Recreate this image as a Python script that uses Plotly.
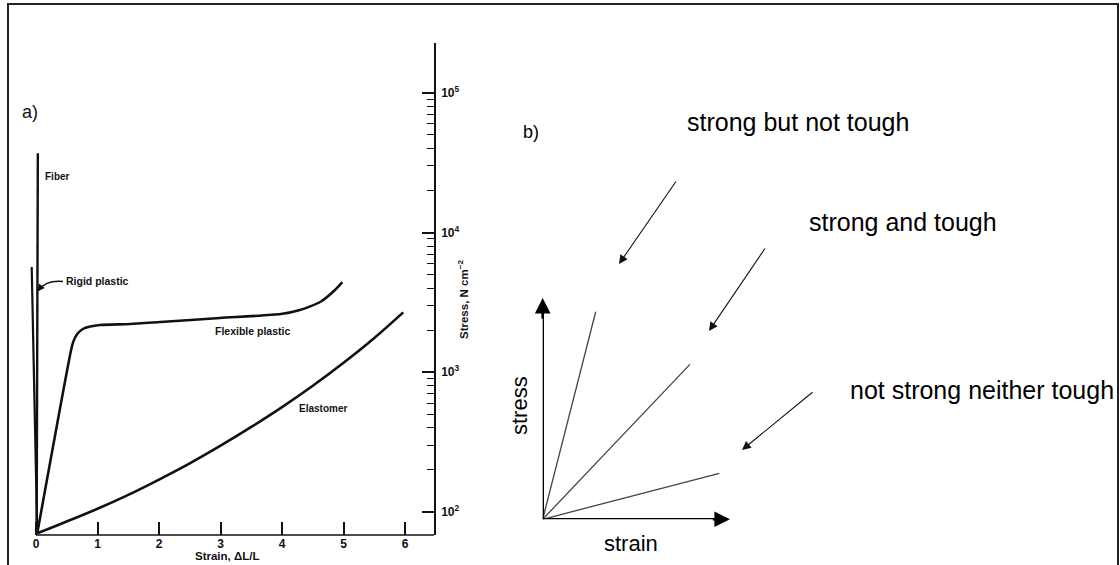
import plotly.graph_objects as go

W, H = 1120, 565

def px(x):
    return x / W

def py(y):
    return 1 - y / H

# ---------------- Panel a data (strain, stress N cm^-2) ----------------
fiber_strain = [0.01, 0.03]
fiber_stress = [70, 37000]

rigid_strain = [0.02, -0.07]
rigid_stress = [70, 5670]

flex_strain = [0.02, 0.57, 0.61, 0.67, 0.76, 0.88, 1.04, 1.53, 2.02, 2.99, 3.98, 4.29, 4.62, 4.86, 4.98]
flex_stress = [70, 1436, 1667, 1874, 2037, 2123, 2175, 2212, 2286, 2443, 2608, 2786, 3180, 3875, 4415]

elast_strain = [0.02, 0.44, 1.0, 1.5, 2.0, 2.5, 3.0, 3.5, 4.0, 4.5, 5.0, 5.5, 5.97]
elast_stress = [70, 83, 105, 132, 170, 222, 297, 405, 562, 799, 1167, 1757, 2680]

x_ticks = [0, 1, 2, 3, 4, 5, 6]
y_major = [100, 1000, 10000, 100000]
y_major_text = ["10<sup>2</sup>", "10<sup>3</sup>", "10<sup>4</sup>", "10<sup>5</sup>"]
y_minor = [m * d for d in (100, 1000, 10000) for m in range(2, 10)]

# ---------------- Panel b data (schematic) ----------------
b_lines = {
    "strong but not tough": [2.83, 9.38],
    "strong and tough": [7.86, 7.00],
    "not strong neither tough": [9.43, 2.08],
}

FONT = "Liberation Sans, Arial, sans-serif"
INK = "#111111"

fig = go.Figure()

curve_style = dict(color=INK, width=2.6)
fig.add_trace(go.Scatter(x=fiber_strain, y=fiber_stress, mode="lines",
                         line=dict(color=INK, width=2.4), xaxis="x", yaxis="y", hoverinfo="skip"))
fig.add_trace(go.Scatter(x=rigid_strain, y=rigid_stress, mode="lines",
                         line=dict(color=INK, width=2.2), xaxis="x", yaxis="y", hoverinfo="skip"))
fig.add_trace(go.Scatter(x=flex_strain, y=flex_stress, mode="lines",
                         line=dict(curve_style, shape="spline", smoothing=0.6),
                         xaxis="x", yaxis="y", hoverinfo="skip"))
fig.add_trace(go.Scatter(x=elast_strain, y=elast_stress, mode="lines",
                         line=dict(curve_style, shape="spline", smoothing=1.0),
                         xaxis="x", yaxis="y", hoverinfo="skip"))

for name, (bx, by) in b_lines.items():
    fig.add_trace(go.Scatter(x=[0, bx], y=[0, by], mode="lines",
                             line=dict(color="#444444", width=1.3),
                             xaxis="x2", yaxis="y2", hoverinfo="skip"))

x0_px = 36 - 0.12 * 61.5
fig.update_layout(
    width=W, height=H,
    margin=dict(l=0, r=0, t=0, b=0),
    paper_bgcolor="white", plot_bgcolor="rgba(0,0,0,0)",
    showlegend=False,
    font=dict(family=FONT, color=INK),
    xaxis=dict(
        domain=[px(x0_px), px(434)], range=[-0.12, 6.47], anchor="y",
        showline=False, showgrid=False, zeroline=False,
        ticks="inside", ticklen=13, tickwidth=1.5, tickcolor=INK,
        tickmode="array", tickvals=x_ticks,
        tickfont=dict(family=FONT, size=12, color=INK, weight="bold"),
    ),
    yaxis=dict(
        type="log", domain=[py(535), py(43)], range=[1.8331, 5.358],
        anchor="x", side="right",
        showline=True, linewidth=1.6, linecolor=INK,
        showgrid=False, zeroline=False,
        ticks="inside", ticklen=12, tickwidth=1.5, tickcolor=INK,
        tickmode="array", tickvals=y_major, ticktext=y_major_text,
        tickfont=dict(family=FONT, size=12, color=INK, weight="bold"),
        ticklabelstandoff=3,
        minor=dict(ticks="inside", ticklen=7, tickwidth=1.2, tickcolor=INK,
                   tickmode="array", tickvals=y_minor, showgrid=False),
    ),
    xaxis2=dict(domain=[px(542.7), px(730)], range=[0, 10], anchor="y2", visible=False),
    yaxis2=dict(domain=[py(519.3), py(298)], range=[0, 10], anchor="x2", visible=False),
)

shapes = []
# outer frame
shapes.append(dict(type="rect", xref="paper", yref="paper",
                   x0=px(8), x1=px(1118), y0=py(575), y1=py(4),
                   line=dict(color="#222222", width=2)))
# x axis line of panel a (starts at strain 0)
shapes.append(dict(type="line", xref="x", yref="paper", x0=0, x1=6.47,
                   y0=py(535), y1=py(535), line=dict(color=INK, width=1.6)))
# curved leader for "Rigid plastic"
shapes.append(dict(type="path", xref="paper", yref="paper",
                   path=f"M {px(63)} {py(281.5)} Q {px(46)} {py(280)} {px(39)} {py(290)}",
                   line=dict(color=INK, width=1.4)))
# panel b axes lines
shapes.append(dict(type="line", xref="x2", yref="y2", x0=0, y0=0, x1=0, y1=9.4,
                   line=dict(color="black", width=2.6)))
shapes.append(dict(type="line", xref="x2", yref="y2", x0=0, y0=0, x1=9.4, y1=0,
                   line=dict(color="black", width=2.6)))
fig.update_layout(shapes=shapes)

ann = []

def text(x, y, s, size, bold=False, xanchor="center", angle=0, color=INK):
    ann.append(dict(x=px(x), y=py(y), xref="paper", yref="paper", text=s,
                    showarrow=False, xanchor=xanchor, yanchor="middle", textangle=angle,
                    font=dict(family=FONT, size=size, color=color,
                              weight="bold" if bold else "normal")))

# panel a labels
text(30, 112, "a)", 18)
text(42.5, 177, "Fiber", 10, bold=True, xanchor="left")
text(64, 281, "Rigid plastic", 10.5, bold=True, xanchor="left")
text(252, 331, "Flexible plastic", 10.5, bold=True)
text(323, 408, "Elastomer", 10, bold=True)
text(227, 556, "Strain, \u0394L/L", 11.5, bold=True)
text(463, 300, "Stress, N cm<sup>\u22122</sup>", 11.5, bold=True, angle=-90)

# small arrowhead on the rigid plastic leader
ann.append(dict(x=px(37.5), y=py(291.5), xref="paper", yref="paper", text="",
                showarrow=True, ax=3, ay=-4, arrowhead=2, arrowsize=1.2,
                arrowwidth=1.2, arrowcolor=INK))

# panel b labels
text(531, 132, "b)", 18, color="black")
text(519, 406, "stress", 22, angle=-90, color="black")
text(630.5, 543, "strain", 22, color="black")
text(685, 122, "strong but not tough", 25, xanchor="left", color="black")
text(807, 222, "strong and tough", 25, xanchor="left", color="black")
text(848, 390, "not strong neither tough", 25, xanchor="left", color="black")

# panel b axis arrowheads
ann.append(dict(x=0, y=10, xref="x2", yref="y2", ax=0, ay=9.0, axref="x2", ayref="y2",
                text="", showarrow=True, arrowhead=2, arrowsize=1.2, arrowwidth=2.6,
                arrowcolor="black"))
ann.append(dict(x=10, y=0, xref="x2", yref="y2", ax=9.0, ay=0, axref="x2", ayref="y2",
                text="", showarrow=True, arrowhead=2, arrowsize=1.2, arrowwidth=2.6,
                arrowcolor="black"))

# pointer arrows in panel b
for (tx, ty, dx, dy) in [(619, 264, 58, -84), (709, 331, 57, -84), (742, 450, 72, -59)]:
    ann.append(dict(x=px(tx), y=py(ty), xref="paper", yref="paper", text="",
                    showarrow=True, ax=dx, ay=dy, arrowhead=2, arrowsize=1.6,
                    arrowwidth=1.1, arrowcolor="#111111"))

fig.update_layout(annotations=ann)

fig.write_html("out.html")
